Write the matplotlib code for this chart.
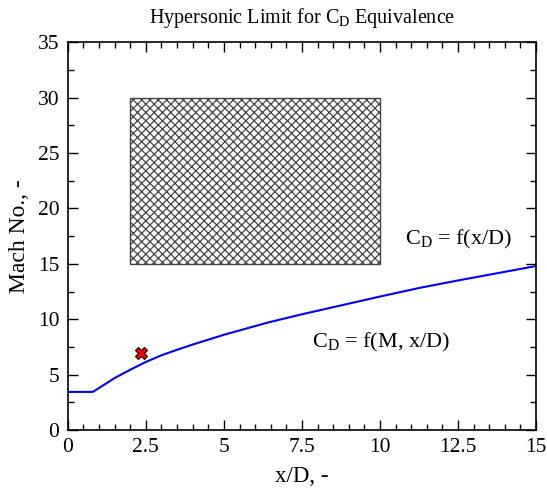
import matplotlib
matplotlib.use('Agg')
from matplotlib import pyplot as plt
from matplotlib.patches import Rectangle
from matplotlib.ticker import MultipleLocator

plt.rcParams['font.family'] = ['Liberation Serif', 'DejaVu Serif']
plt.rcParams['mathtext.fontset'] = 'custom'
plt.rcParams['mathtext.rm'] = 'Liberation Serif'
plt.rcParams['hatch.color'] = '#8a8a8a'
plt.rcParams['hatch.linewidth'] = 0.9

# hypersonic limit curve
limit_x = [0, 0.8, 1.0, 1.5, 2.0, 2.5, 3.0, 3.5, 4.0, 5, 6.4, 7.5, 10, 11.3, 12.5, 15]
limit_mach = [3.45, 3.45, 3.8, 4.7, 5.45, 6.15, 6.75, 7.25, 7.72, 8.6, 9.7, 10.45,
              12.05, 12.85, 13.5, 14.8]

# test point
point_x = [2.33]
point_mach = [7.0]

# region where C_D depends only on x/D
region_x = (2, 10)
region_mach = (15, 30)

fig = plt.figure(figsize=(5.47, 4.95), dpi=100)
ax = fig.add_axes([0.124, 0.131, 0.856, 0.784])

ax.plot(limit_x, limit_mach, color='blue', lw=1.5)
ax.plot(point_x, point_mach, marker='X', color='red', markeredgecolor='black',
        markeredgewidth=0.8, markersize=8, linestyle='none')
ax.add_patch(Rectangle((region_x[0], region_mach[0]), region_x[1] - region_x[0],
                       region_mach[1] - region_mach[0], facecolor='white',
                       edgecolor='#444444', hatch='xxxx', lw=1.0))

ax.text(10.8, 17.2, r'C$_{\rm D}$ = f(x/D)', fontsize=16, va='center')
ax.text(7.81, 7.9, r'C$_{\rm D}$ = f(M, x/D)', fontsize=16, va='center')

ax.set_xlim(0, 15)
ax.set_ylim(0, 35)
ax.xaxis.set_minor_locator(MultipleLocator(0.5))
ax.yaxis.set_major_locator(MultipleLocator(5))
ax.yaxis.set_minor_locator(MultipleLocator(2.5))
ax.set_xticks([0, 2.5, 5, 7.5, 10, 12.5, 15])
ax.set_xticklabels(['0', '2.5', '5', '7.5', '10', '12.5', '15'])
ax.tick_params(which='both', direction='in', top=True, right=True, labelsize=15.5)
ax.tick_params(which='major', length=7, width=1, pad=6)
ax.tick_params(which='minor', length=4, width=1)
for s in ax.spines.values():
    s.set_linewidth(1.2)

ax.set_xlabel('x/D, -', fontsize=16.5, labelpad=6)
ax.set_ylabel('Mach No., -', fontsize=17, labelpad=6)
ax.set_title(r'Hypersonic Limit for C$_{\rm D}$ Equivalence', fontsize=14.5, pad=14)

fig.savefig('out.png', dpi=100)
